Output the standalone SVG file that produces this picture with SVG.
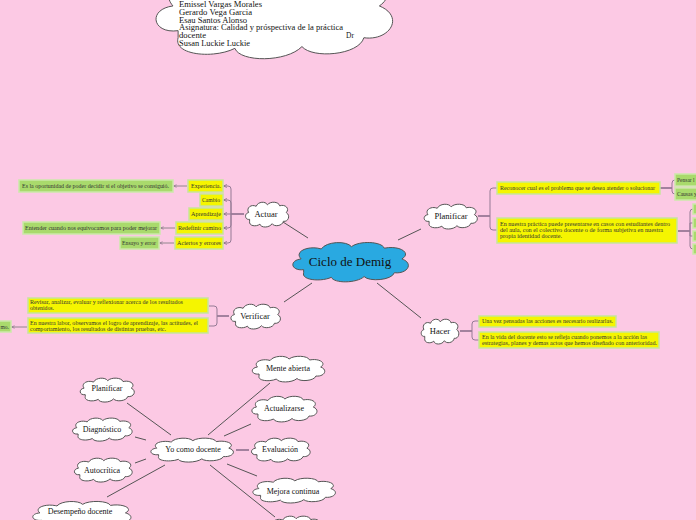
<svg xmlns="http://www.w3.org/2000/svg" width="696" height="520" viewBox="0 0 696 520">
<defs>
<symbol id="cloud" viewBox="0 0 100 60" preserveAspectRatio="none">
<path vector-effect="non-scaling-stroke" d="M14,40 C4,42 2,28 12,26 C6,16 18,8 28,13 C32,3 48,2 52,10 C58,2 76,3 78,12 C90,8 100,18 92,26 C102,32 96,46 86,44 C84,54 66,56 62,49 C56,58 38,58 36,50 C28,56 12,54 14,44 Z"/>
</symbol>
<marker id="arr" viewBox="0 0 6 6" refX="5" refY="3" markerWidth="4" markerHeight="4" orient="auto">
<path d="M0,0.5 L6,3 L0,5.5" fill="none" stroke="#7a6a7a" stroke-width="1"/>
</marker>
<style>
.cl{fill:#fff;stroke:#555;stroke-width:1}
.cc{fill:#29a9e1;stroke:#555;stroke-width:1}
.t{font-family:"Liberation Serif",serif;fill:#111;text-anchor:middle}
.nt{font-size:8.5px}
.bt{font-size:8px}
.s{font-family:"Liberation Serif",serif;font-size:5.5px;fill:#333}
.y{fill:#f5f500;stroke:#c6e59a;stroke-width:1.5}
.g{fill:#a9da6c;stroke:#cbe9a9;stroke-width:1.5}
.br{fill:none;stroke:#957a95;stroke-width:1}
.bh{fill:none;stroke:#8c6f8c;stroke-width:1.6}
.ln{stroke:#555;stroke-width:1;fill:none}
.ar{stroke:#777;stroke-width:0.8;fill:none}
</style>
</defs>
<rect width="696" height="520" fill="#fcc9e4"/>

<g id="connectors">
<line class="ln" x1="283" y1="222" x2="308" y2="238"/>
<line class="ln" x1="398" y1="240" x2="421" y2="229"/>
<line class="ln" x1="312" y1="283" x2="284" y2="302"/>
<line class="ln" x1="377" y1="283" x2="421" y2="318"/>
<line class="bh" x1="231" y1="214" x2="244" y2="214"/>
<path class="br" marker-end="url(#arr)" d="M231,214 V189 Q231,186 228,186 H224"/>
<path class="br" marker-end="url(#arr)" d="M231,214 V203 Q231,200 228,200 H224"/>
<path class="br" marker-end="url(#arr)" d="M231,214 H224"/>
<path class="br" marker-end="url(#arr)" d="M231,214 V225 Q231,228 228,228 H224"/>
<path class="br" marker-end="url(#arr)" d="M231,214 V240 Q231,243 228,243 H224"/>
<line class="ar" marker-end="url(#arr)" x1="187" y1="186" x2="174" y2="186"/>
<line class="ar" marker-end="url(#arr)" x1="175" y1="228" x2="161" y2="228"/>
<line class="ar" marker-end="url(#arr)" x1="174" y1="243" x2="160" y2="243"/>
<line class="bh" x1="478" y1="216" x2="490" y2="216"/>
<path class="br" d="M490,216 V191 Q490,188 493,188 H497"/>
<path class="br" d="M490,216 V227 Q490,230 493,230 H497"/>
<line class="bh" x1="660" y1="188" x2="672" y2="188"/>
<path class="br" d="M672,188 V183 Q672,180 675,180"/>
<path class="br" d="M672,188 V191 Q672,194 675,194"/>
<line class="bh" x1="678" y1="231" x2="690" y2="231"/>
<path class="br" d="M690,231 V212 Q690,209 693,209"/>
<path class="br" d="M690,231 V223 H693"/>
<path class="br" d="M690,231 V236 H693"/>
<path class="br" d="M690,231 V246 Q690,249 693,249"/>
<line class="bh" x1="217" y1="316" x2="229" y2="316"/>
<path class="br" d="M217,316 V309 Q217,306 214,306 H209"/>
<path class="br" d="M217,316 V323 Q217,326 214,326 H209"/>
<line class="ar" marker-end="url(#arr)" x1="27" y1="327" x2="12" y2="327"/>
<line class="bh" x1="460" y1="331" x2="472" y2="331"/>
<path class="br" d="M472,331 V324 Q472,321 475,321 H479"/>
<path class="br" d="M472,331 V337 Q472,340 475,340 H479"/>
<line class="ln" x1="127" y1="403" x2="171" y2="435"/>
<line class="ln" x1="135" y1="437" x2="146" y2="440"/>
<line class="ln" x1="135" y1="463" x2="146" y2="459"/>
<line class="ln" x1="107" y1="497" x2="165" y2="465"/>
<line class="ln" x1="208" y1="435" x2="270" y2="383"/>
<line class="ln" x1="224" y1="436" x2="251" y2="424"/>
<line class="bh" x1="236" y1="450" x2="249" y2="450"/>
<line class="ln" x1="227" y1="464" x2="257" y2="476"/>
<line class="ln" x1="210" y1="465" x2="275" y2="517"/>
</g>

<g id="title">
<use href="#cloud" class="cl" x="142" y="-40" width="258" height="106"/>
<g font-family="Liberation Serif,serif" font-size="7.5" fill="#111">
<text x="179" y="7" textLength="83" lengthAdjust="spacingAndGlyphs">Emissel Vargas Morales</text>
<text x="179" y="14.8" textLength="73" lengthAdjust="spacingAndGlyphs">Gerardo Vega Garcia</text>
<text x="179" y="22.6" textLength="68" lengthAdjust="spacingAndGlyphs">Esau Santos  Alonso</text>
<text x="179" y="30.4" textLength="164" lengthAdjust="spacingAndGlyphs">Asignatura: Calidad y próspectiva de la práctica</text>
<text x="179" y="38.2" textLength="27" lengthAdjust="spacingAndGlyphs">docente</text>
<text x="346" y="38.2">Dr</text>
<text x="179" y="46" textLength="71" lengthAdjust="spacingAndGlyphs">Susan Luckie Luckie</text>
</g>
</g>

<g id="center">
<use href="#cloud" class="cc" x="286" y="239" width="126" height="46"/>
<text class="t" x="350" y="266" font-size="13">Ciclo de Demig</text>
</g>

<g id="actuar">
<use href="#cloud" class="cl" x="243" y="200" width="47" height="29"/>
<text class="t nt" x="266" y="217">Actuar</text>
</g>
<g id="actuar-items">
<rect class="y" x="188" y="180" width="35" height="12"/>
<text class="s" x="191" y="188" textLength="30" lengthAdjust="spacingAndGlyphs">Experiencia.</text>
<rect class="y" x="200" y="194" width="23" height="12"/>
<text class="s" x="202" y="202" textLength="18" lengthAdjust="spacingAndGlyphs">Cambio</text>
<rect class="y" x="189" y="208" width="34" height="12"/>
<text class="s" x="191" y="216" textLength="30" lengthAdjust="spacingAndGlyphs">Aprendizaje</text>
<rect class="y" x="176" y="222" width="47" height="12"/>
<text class="s" x="178" y="230" textLength="43" lengthAdjust="spacingAndGlyphs">Redefinir camino</text>
<rect class="y" x="175" y="237" width="48" height="12"/>
<text class="s" x="177" y="245" textLength="44" lengthAdjust="spacingAndGlyphs">Aciertos y errores</text>
<rect class="g" x="19" y="180" width="154" height="12"/>
<text class="s" x="22" y="188" textLength="147" lengthAdjust="spacingAndGlyphs">Es la oportunidad de poder decidir si el objetivo se consiguió.</text>
<rect class="g" x="23" y="222" width="137" height="12"/>
<text class="s" x="25" y="230" textLength="132" lengthAdjust="spacingAndGlyphs">Entender cuando nos equivocamos para poder mejorar</text>
<rect class="g" x="120" y="237" width="39" height="12"/>
<text class="s" x="122" y="245" textLength="34" lengthAdjust="spacingAndGlyphs">Ensayo y error</text>
</g>

<g id="planificar">
<use href="#cloud" class="cl" x="421" y="202" width="58" height="29"/>
<text class="t nt" x="451" y="219">Planificar</text>
</g>
<g id="planificar-items">
<rect class="y" x="497" y="182" width="163" height="12"/>
<text class="s" x="500" y="190" textLength="155" lengthAdjust="spacingAndGlyphs">Reconocer cual es el problema que se desea atender o solucionar</text>
<rect class="y" x="497" y="218" width="180" height="25"/>
<text class="s" x="500" y="225.5" textLength="170" lengthAdjust="spacingAndGlyphs">En nuestra práctica puede presentarse en casos con estudiantes dentro</text>
<text class="s" x="500" y="231.8" textLength="163" lengthAdjust="spacingAndGlyphs">del aula, con el colectivo docente o de  forma subjetiva en nuestra</text>
<text class="s" x="500" y="238.2" textLength="62" lengthAdjust="spacingAndGlyphs">propia identidad docente.</text>
<rect class="g" x="675" y="174" width="40" height="12"/>
<text class="s" x="677" y="182">Pensar l</text>
<rect class="g" x="675" y="188" width="40" height="12"/>
<text class="s" x="677" y="196">Causas y</text>
<rect class="g" x="693" y="204" width="20" height="10"/>
<rect class="g" x="693" y="218" width="20" height="10"/>
<rect class="g" x="693" y="231" width="20" height="10"/>
<rect class="g" x="693" y="244" width="20" height="10"/>
</g>

<g id="verificar">
<use href="#cloud" class="cl" x="228" y="302" width="54" height="29"/>
<text class="t nt" x="255" y="319">Verificar</text>
</g>
<g id="verificar-items">
<rect class="y" x="28" y="298" width="180" height="15"/>
<text class="s" x="30" y="304" textLength="153" lengthAdjust="spacingAndGlyphs">Revisar, analizar, evaluar y  reflexionar acerca de los resultados</text>
<text class="s" x="30" y="310" textLength="24" lengthAdjust="spacingAndGlyphs">obtenidos.</text>
<rect class="y" x="28" y="318" width="180" height="15"/>
<text class="s" x="30" y="324.5" textLength="168" lengthAdjust="spacingAndGlyphs">En nuestra labor, observamos el logro de aprendizaje, las actitudes, el</text>
<text class="s" x="30" y="330.5" textLength="136" lengthAdjust="spacingAndGlyphs">comportamiento, los resultados de distintas pruebas, etc.</text>
<rect class="g" x="-20" y="321" width="31" height="11"/>
<text class="s" x="9" y="329" text-anchor="end">mo.</text>
</g>

<g id="hacer">
<use href="#cloud" class="cl" x="419" y="317" width="41" height="29"/>
<text class="t nt" x="440" y="334">Hacer</text>
</g>
<g id="hacer-items">
<rect class="y" x="479" y="316" width="137" height="11"/>
<text class="s" x="482" y="323.3" textLength="131" lengthAdjust="spacingAndGlyphs">Una vez pensadas las acciones es necesario realizarlas.</text>
<rect class="y" x="479" y="332" width="180" height="16"/>
<text class="s" x="482" y="338.8" textLength="165" lengthAdjust="spacingAndGlyphs">En la vida del docente esto se refleja cuando ponemos a la acción las</text>
<text class="s" x="482" y="344.8" textLength="175" lengthAdjust="spacingAndGlyphs">estrategias, planes y demas actos que hemos diseñado con anterioridad.</text>
</g>

<g id="yo-como-docente">
<use href="#cloud" class="cl" x="146" y="436" width="90" height="28"/>
<text class="t bt" x="193" y="452">Yo como docente</text>
</g>
<g id="planificar2">
<use href="#cloud" class="cl" x="77" y="376" width="59" height="28"/>
<text class="t bt" x="107" y="391">Planificar</text>
</g>
<g id="diagnostico">
<use href="#cloud" class="cl" x="69" y="416" width="65" height="27"/>
<text class="t bt" x="102" y="432">Diagnóstico</text>
</g>
<g id="autocritica">
<use href="#cloud" class="cl" x="71" y="456" width="63" height="28"/>
<text class="t bt" x="102" y="473">Autocrítica</text>
</g>
<g id="desempeno">
<use href="#cloud" class="cl" x="27" y="499" width="107" height="32"/>
<text class="t bt" x="80" y="514">Desempeño docente</text>
</g>
<g id="mente-abierta">
<use href="#cloud" class="cl" x="248" y="354" width="79" height="30"/>
<text class="t bt" x="288" y="371">Mente abierta</text>
</g>
<g id="actualizarse">
<use href="#cloud" class="cl" x="248" y="394" width="71" height="30"/>
<text class="t bt" x="284" y="411">Actualizarse</text>
</g>
<g id="evaluacion">
<use href="#cloud" class="cl" x="248" y="436" width="64" height="28"/>
<text class="t bt" x="280" y="452">Evaluación</text>
</g>
<g id="mejora-continua">
<use href="#cloud" class="cl" x="248" y="476" width="90" height="29"/>
<text class="t bt" x="293" y="494">Mejora continua</text>
</g>
<g id="bottom-node">
<use href="#cloud" class="cl" x="267" y="514" width="56" height="28"/>
</g>
</svg>
